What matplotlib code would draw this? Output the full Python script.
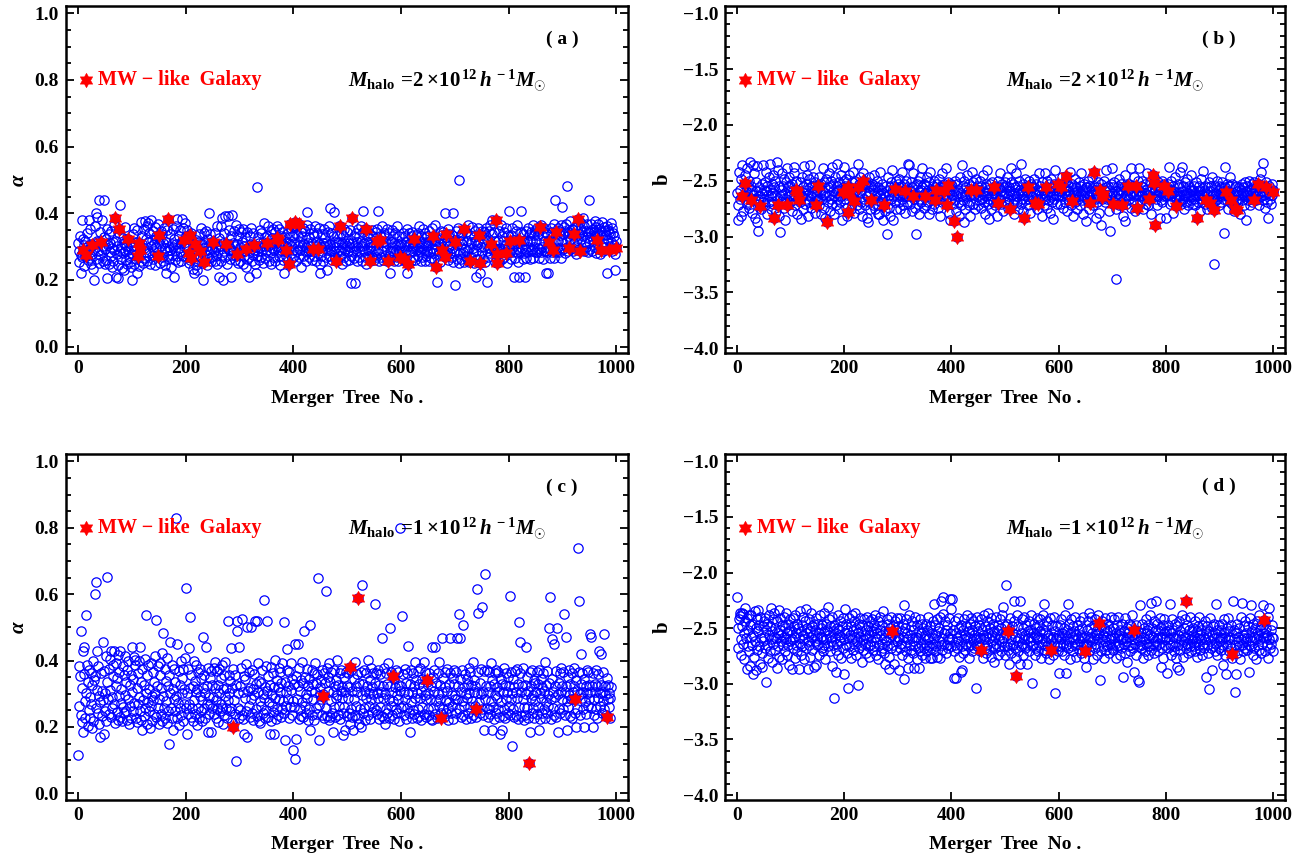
import numpy as np
import matplotlib
matplotlib.use("Agg")
import matplotlib.pyplot as plt
from matplotlib.path import Path
from matplotlib.ticker import MultipleLocator, NullLocator, FuncFormatter

plt.rcParams['font.family'] = ['Liberation Serif', 'DejaVu Serif']
plt.rcParams['font.weight'] = 'bold'
plt.rcParams['mathtext.fontset'] = 'custom'
plt.rcParams['mathtext.rm'] = 'Liberation Serif:bold'
plt.rcParams['mathtext.it'] = 'Liberation Serif:bold:italic'
plt.rcParams['mathtext.bf'] = 'Liberation Serif:bold'

# ---------------- data (tree No. = position 1..1000) ----------------
# panel (a): alpha x1000, M_halo = 2e12
alpha_2e12_x1000 = [
312,287,254,331,276,221,380,268,297,322, 305,243,271,318,195,283,342,259,301,380, 292,266,352,309,248,335,279,304,232,200, 361,296,400,262,318,390,287,314,251,440, 343,276,309,291,380,258,302,440,329,247,
293,322,261,353,205,304,249,338,285,312, 272,347,238,296,315,257,366,289,228,210, 318,279,301,205,246,341,309,288,425,263, 297,236,327,282,230,311,286,358,259,302, 324,247,291,348,269,313,255,299,238,200,
279,338,301,248,357,286,314,262,349,220, 298,273,369,243,321,292,374,258,308,331, 251,352,296,378,267,324,285,361,256,313, 372,281,340,249,302,381,271,319,346,262, 309,287,358,246,333,298,276,269,367,311,
291,324,252,347,303,268,339,312,258,356, 297,246,220,314,286,351,272,321,299,263, 338,291,238,309,274,352,298,210,323,261, 289,362,307,271,383,253,331,296,349,288, 312,257,384,318,273,357,301,248,371,332,
301,268,349,286,322,251,313,361,259,297, 341,287,232,309,221,276,303,352,246,319, 291,229,314,262,338,299,271,357,283,308, 252,200,297,342,268,311,257,348,289,246, 323,302,266,400,287,338,258,314,296,273,
349,286,312,258,341,299,272,362,248,309, 291,210,326,302,257,363,274,385,200,311, 342,288,392,268,324,301,249,393,308,289, 351,262,297,333,210,274,395,312,286,346, 259,302,364,271,400,309,251,331,287,352,
298,257,343,286,314,249,352,272,301,329, 287,238,311,262,344,297,268,210,331,289, 309,357,256,302,274,342,291,313,247,220, 298,271,480,328,286,312,259,351,299,268, 341,288,314,251,372,301,266,329,287,312,
273,331,302,362,257,309,288,346,249,297, 327,268,354,289,314,258,343,301,395,362, 288,311,271,352,298,246,331,289,343,312, 259,302,220,329,287,361,272,314,299,258, 342,286,311,249,356,303,267,332,362,291,
311,272,341,297,258,363,288,332,301,352, 269,314,291,343,238,302,331,273,357,309, 287,346,299,257,364,405,312,286,329,268, 301,353,287,312,259,342,298,271,331,362, 289,314,256,341,302,268,357,309,247,220,
298,271,339,286,312,257,352,301,328,268, 311,230,289,343,302,362,273,415,309,288, 342,259,301,331,405,287,313,268,354,299, 257,332,288,314,363,271,302,341,286,312, 248,331,299,268,352,289,311,257,343,302,
321,287,312,259,349,298,271,190,309,311, 288,332,266,301,190,341,287,313,258,352, 299,268,331,286,314,363,257,302,343,407, 287,312,269,352,301,248,331,289,314,272, 342,299,257,313,288,351,268,332,301,259,
312,287,343,268,301,352,407,289,314,257, 331,298,268,362,287,314,259,342,301,273, 332,289,311,353,258,302,271,341,288,220, 313,266,351,299,287,331,258,312,342,289, 301,268,363,309,257,332,286,301,343,272,
311,288,342,269,410,302,331,257,313,289, 352,220,301,273,341,312,288,332,257,299, 343,286,314,268,357,301,259,331,289,312, 271,342,298,363,287,313,256,332,301,268, 352,289,311,258,341,302,271,331,288,313,
304,257,346,283,317,265,355,296,333,281, 319,262,308,366,291,339,194,315,274,327, 286,309,253,348,297,336,264,284,345,311, 305,400,276,329,285,318,354,259,302,337, 282,316,268,334,296,400,255,321,287,185,
316,283,347,264,305,356,252,500,318,281, 334,262,307,341,284,319,255,353,293,272, 345,286,316,261,365,297,253,336,282,314, 269,358,296,284,329,251,318,347,286,210, 305,263,356,315,284,253,220,336,298,347,
283,317,264,345,298,335,255,356,286,195, 318,268,347,296,281,364,309,262,337,380, 298,345,284,318,253,357,294,267,334,282, 316,254,348,297,366,286,333,263,317,294, 268,344,305,283,357,315,252,336,298,407,
317,284,346,262,335,296,355,283,319,210, 306,267,347,314,285,366,294,253,336,210, 318,283,345,407,297,264,337,282,316,210, 294,348,266,318,284,357,298,334,263,317, 345,286,316,293,366,267,335,298,283,346,
318,284,356,297,334,266,347,315,293,365, 283,336,299,263,357,316,286,345,220,297, 337,283,318,220,346,296,267,355,317,284, 345,296,336,266,367,315,440,284,336,297, 356,316,283,347,296,334,267,366,318,420,
338,293,359,281,348,314,369,482,299,331, 286,200,343,321,378,294,352,337,287,349, 312,460,298,358,333,279,364,319,341,292, 337,374,286,353,322,344,291,386,332,288, 361,311,347,299,368,329,285,343,440,315,
347,292,333,368,287,353,321,344,299,378, 331,281,358,313,342,293,369,337,279,352, 316,348,301,374,336,286,359,311,346,298, 334,363,220,319,351,289,343,302,338,372, 314,357,287,341,304,332,278,230,317,299,
]
# panel (b): -b x100, M_halo = 2e12
minus_b_2e12_x100 = [
261,285,272,242,266,258,282,248,267,236, 264,277,253,263,285,245,259,271,239,256, 269,250,274,261,233,264,255,279,258,236, 263,243,267,283,251,259,287,237,266,295, 256,271,247,264,275,253,261,236,269,258,
266,251,272,242,259,280,255,263,247,269, 258,235,264,275,253,261,245,271,283,256, 263,250,277,233,267,240,259,282,255,264, 296,258,269,243,263,255,274,248,261,285, 251,266,239,259,272,256,264,247,269,255,
263,253,277,258,267,243,238,264,272,250, 261,280,255,266,242,259,269,251,263,284, 247,264,256,275,237,261,271,253,266,245, 258,282,263,248,269,256,236,264,274,255, 261,247,271,259,279,251,264,240,267,258,
256,267,247,272,261,253,280,258,266,239, 263,274,251,261,283,248,264,287,256,269, 243,263,277,255,266,250,238,271,259,253, 264,280,247,261,272,255,235,266,258,275, 251,263,269,245,264,285,256,261,250,238,
266,255,274,248,263,282,258,269,245,261, 256,275,264,251,271,242,263,255,279,259, 250,267,258,272,235,264,253,275,261,247, 269,258,282,255,263,243,266,272,253,261, 251,283,264,287,256,269,247,261,275,255,
263,253,272,258,266,245,275,255,264,271, 250,261,280,256,280,263,242,269,258,266, 253,285,261,272,248,264,277,255,298,259, 267,247,263,274,256,282,251,266,259,240, 264,285,255,269,261,250,275,258,264,253,
258,269,248,263,275,255,266,242,261,272, 253,264,258,279,250,263,269,256,235,264, 236,259,271,251,264,277,256,261,243,266, 255,274,263,298,253,264,250,271,259,280, 247,266,258,269,256,239,263,274,253,261,
264,255,272,247,261,269,258,280,251,263, 242,266,259,275,255,264,250,271,261,256, 267,294,253,263,274,248,266,258,282,255, 261,269,243,264,256,275,253,263,239,267, 258,264,251,272,259,279,285,255,266,253,
263,255,271,286,259,250,267,263,277,300, 253,264,258,282,269,247,261,272,236,264, 255,267,287,250,263,275,256,264,245,269, 259,253,272,263,282,255,264,242,261,271, 251,263,258,275,248,267,261,255,272,259,
258,267,250,263,274,255,266,259,245,269, 263,256,280,253,264,240,261,271,258,266, 284,253,263,275,251,264,258,269,247,261, 272,255,264,259,282,250,263,267,256,243, 266,259,271,253,263,277,256,264,251,269,
261,255,269,247,264,274,256,266,275,259, 251,239,263,271,253,261,280,256,266,243, 264,269,255,261,275,250,263,258,271,235, 259,266,253,277,283,263,248,267,258,264, 255,272,261,250,266,259,279,253,263,256,
264,256,267,248,261,271,253,263,275,258, 266,245,259,243,269,255,263,282,251,264, 258,272,261,243,266,255,263,274,250,261, 267,253,279,259,264,248,269,256,263,284, 253,266,258,240,263,271,256,264,251,259,
263,253,271,259,266,247,264,274,256,261, 251,269,258,246,264,277,255,263,259,267, 242,263,272,253,264,258,282,255,261,269, 248,263,256,275,259,266,251,264,272,255, 261,243,267,263,258,280,253,264,259,256,
286,264,256,269,250,263,275,255,264,259, 267,247,261,272,255,242,266,258,263,283, 256,269,251,264,279,258,261,253,290,266, 255,263,274,250,264,259,269,256,240,263, 266,255,277,259,295,263,253,267,239,261,
263,256,269,251,264,275,338,259,266,255, 261,272,248,263,258,269,253,264,282,259, 256,266,245,286,263,271,255,264,290,258, 266,253,263,274,239,261,255,269,259,247, 264,277,256,263,253,267,259,250,239,264,
259,269,255,264,250,263,275,256,266,261, 253,271,258,264,243,263,272,255,266,259, 251,264,280,256,261,269,247,263,290,258, 266,255,263,272,251,264,259,283,255,267, 261,250,269,258,264,275,253,263,256,283,
264,256,267,253,263,238,271,258,264,250, 261,269,255,279,259,264,247,266,258,263, 272,253,264,256,267,242,263,271,259,238, 266,255,263,275,251,264,258,269,261,248, 264,272,255,263,258,267,245,264,259,271,
258,266,255,263,272,251,264,283,259,269, 255,263,277,258,266,248,263,269,241,259, 264,255,271,261,253,266,275,256,263,251, 267,259,264,255,274,247,263,269,258,325, 264,255,267,261,250,266,259,272,255,263,
261,269,256,264,251,266,259,297,263,238, 256,267,263,253,275,259,264,255,269,247, 263,258,271,253,266,261,277,256,264,255, 267,259,250,269,263,256,266,280,258,263, 253,267,261,256,272,263,251,264,285,259,
263,255,267,259,250,264,272,258,263,253, 269,261,256,275,251,264,259,267,255,263, 258,266,253,272,261,248,242,264,259,234, 267,256,263,274,255,264,251,269,261,258, 283,263,255,266,259,271,253,263,258,264,
]
# MW-like galaxies (red stars), M_halo = 2e12
mw_trees_2e12 = [9,15,26,43,69,77,94,111,113,115,148,151,168,198,207,208,210,218,226,235,
                 251,275,295,313,328,351,369,372,386,392,394,404,410,437,446,479,487,509,535,543,
                 555,562,576,599,605,614,625,659,666,677,681,683,701,718,729,745,746,768,776,778,
                 779,796,803,819,858,875,883,889,912,922,929,933,964,971,986,1000]
mw_alpha_2e12_x1000 = [289,274,304,314,387,352,322,272,310,290,272,334,384,321,280,334,265,309,287,254,
                       314,309,279,294,304,311,325,320,289,249,367,374,367,294,293,257,361,387,354,257,
                       317,320,257,269,262,248,322,331,239,289,270,339,314,352,257,334,251,307,381,277,
                       251,280,317,319,359,314,289,344,297,339,384,287,319,290,290,297]
mw_minus_b_2e12_x100 = [264,252,267,273,283,272,272,258,260,267,272,255,287,260,278,256,262,268,256,250,
                        267,272,257,259,264,264,267,258,259,272,254,286,300,258,258,256,270,275,283,256,
                        270,271,256,253,256,246,268,270,242,258,265,262,271,272,255,255,274,266,245,252,
                        290,255,259,273,283,267,270,276,260,267,275,276,267,253,256,260]

# panel (c): alpha x1000, M_halo = 1e12
alpha_1e12_x1000 = [
117,384,262,352,236,488,214,318,186,430, 361,440,279,228,538,301,387,203,334,251, 372,289,226,364,268,197,326,398,219,341, 352,600,636,258,430,311,241,384,209,292, 274,170,362,232,309,455,281,178,368,247,
302,415,218,336,652,283,374,238,312,405, 229,430,291,257,388,352,268,428,211,324, 392,246,347,418,222,294,366,231,430,272, 314,218,383,259,357,241,297,414,249,336, 221,372,283,398,208,327,262,356,228,305,
440,248,345,412,271,386,402,228,317,214, 364,269,398,291,440,247,336,221,190,375, 281,326,232,404,258,538,301,209,358,276, 386,247,315,198,394,262,294,219,367,281, 336,238,415,302,231,523,324,257,384,210,
283,356,394,238,316,424,219,292,483,258, 374,227,338,279,407,212,324,249,358,150, 455,301,257,386,228,314,190,284,376,247, 336,830,294,226,450,271,368,207,327,258, 398,237,303,347,218,376,268,314,407,257,
620,180,302,238,374,268,437,316,532,229, 358,257,324,217,398,281,337,238,304,386, 207,314,258,367,226,293,376,247,348,281, 218,316,470,258,357,302,227,440,324,268, 378,185,291,238,346,269,368,185,257,327,
291,378,238,316,397,226,281,368,258,327, 214,376,302,247,348,269,386,256,208,314, 357,237,294,396,258,316,227,518,281,357, 302,247,338,437,258,316,216,376,200,281, 357,238,327,97,490,520,258,302,226,440,
324,251,379,236,525,306,223,354,180,287, 343,249,391,500,170,309,262,365,229,318, 500,284,372,241,313,221,297,361,518,255, 329,518,233,305,394,219,338,277,211,331, 263,371,298,243,582,286,320,228,383,252,
308,518,231,352,276,180,327,219,381,262, 297,363,244,319,180,288,401,224,342,253, 321,236,379,284,306,366,229,331,255,394, 279,515,241,336,160,304,262,372,435,285, 322,228,367,259,311,392,236,345,130,279,
330,261,450,105,165,353,284,450,322,224, 378,255,307,342,233,396,276,331,229,490, 351,262,298,241,374,287,324,221,343,255, 507,190,309,372,236,328,283,364,222,306, 393,257,333,240,361,650,160,265,319,297,
284,342,235,371,299,270,363,228,331,610, 256,379,232,308,349,221,392,230,334,277, 366,243,184,304,261,373,322,229,341,287, 297,402,236,325,262,364,224,309,371,288, 319,241,175,351,259,190,306,367,233,322,
287,364,241,321,382,210,254,373,309,229, 190,344,283,396,236,324,262,361,305,227, 587,210,333,253,200,366,297,627,241,329, 372,256,308,221,363,286,324,401,237,303, 263,342,225,378,284,319,245,362,298,257,
331,570,252,364,239,301,372,286,325,224, 361,259,306,467,233,322,287,377,226,298, 210,363,254,329,242,393,283,228,497,324, 262,367,304,236,401,278,344,223,319,255, 373,297,241,365,284,326,219,800,308,257,
322,535,263,361,236,304,374,284,224,331, 257,363,445,298,241,184,329,276,373,228, 306,364,252,324,239,395,286,342,226,301, 369,255,328,233,378,287,307,222,344,261, 324,397,238,296,367,283,229,334,377,254,
303,236,362,285,324,224,440,220,351,256, 307,372,238,440,279,331,228,364,298,262, 395,284,326,241,227,467,304,253,348,229, 321,366,278,243,375,309,257,220,329,276, 467,363,241,297,262,346,223,328,372,285,
297,242,367,467,283,324,540,255,343,467, 229,306,373,279,236,507,321,263,361,298, 224,345,286,328,241,379,302,259,366,227, 326,278,396,237,304,341,262,322,231,254, 303,614,542,365,276,331,242,299,374,255,
562,304,236,190,369,284,662,322,257,371, 229,305,366,253,324,238,393,277,190,342, 261,328,224,364,297,243,371,286,321,255, 367,231,308,180,276,345,190,329,233,304, 379,254,325,228,364,283,306,241,349,262,
324,595,237,366,285,301,143,344,255,229, 321,369,236,304,287,375,224,328,515,261, 364,455,306,234,322,283,378,259,220,326, 236,298,440,257,349,228,307,90,366,184, 286,322,243,373,296,257,342,228,331,279,
305,366,239,329,261,372,190,302,224,343, 287,321,242,363,254,308,397,227,325,276, 241,369,263,296,497,331,590,223,284,465, 344,257,306,450,236,323,289,368,229,497, 298,184,331,255,362,243,304,377,283,324,
254,366,540,306,237,470,323,279,190,349, 261,296,372,234,328,284,363,227,305,285, 322,378,286,241,341,200,307,255,739,366, 580,298,236,329,420,287,362,253,306,200, 344,276,322,238,373,301,262,367,284,325,
304,480,470,257,322,200,364,283,236,329, 306,372,254,324,228,286,361,430,301,262, 420,327,241,304,366,279,480,255,323,297, 236,230,348,284,326,259,303,227,286,321,
]
# panel (d): -b x100, M_halo = 1e12
minus_b_1e12_x100 = [
222,250,268,242,239,236,260,274,248,236, 264,237,254,278,244,232,259,287,241,266, 252,238,271,247,284,258,238,265,246,291, 256,276,235,262,250,288,242,270,253,234, 266,247,282,240,259,272,285,248,262,244,
258,268,241,252,298,246,265,277,238,256, 248,271,260,232,280,253,242,264,258,236, 270,250,259,286,244,254,266,234,276,252, 241,262,256,278,247,265,240,258,271,250, 260,236,274,254,246,265,283,253,242,262,
252,287,260,241,268,248,258,277,238,265, 254,246,271,250,287,259,235,264,253,274, 247,266,256,240,278,260,244,233,268,254, 250,262,287,242,265,253,276,236,258,248, 270,256,285,246,262,252,283,241,259,265,
246,264,254,274,238,258,250,268,247,271, 259,236,265,253,278,246,260,252,231,266, 256,242,271,248,262,258,284,240,265,253, 247,313,259,270,289,250,264,238,274,256, 252,262,244,277,258,248,268,241,260,291,
254,233,265,246,272,252,259,304,241,266, 256,248,277,238,260,253,270,244,264,258, 236,274,250,262,254,301,246,268,258,241, 265,253,280,247,260,270,242,256,264,252, 272,240,259,266,248,276,256,244,265,253,
262,242,270,253,247,266,258,238,274,250, 260,254,278,244,265,252,240,271,256,264, 247,268,235,259,272,282,253,262,242,266, 254,246,276,287,258,250,268,240,262,256, 265,248,282,244,259,270,252,262,241,258,
248,288,259,268,241,264,253,274,246,258, 296,229,266,250,271,242,260,254,277,286, 238,265,256,248,270,259,244,272,252,286, 262,240,266,258,278,247,259,268,286,253, 242,271,254,264,246,274,250,260,268,277,
256,265,246,271,252,260,240,266,258,277, 248,268,254,277,244,264,228,259,271,247, 256,266,242,276,253,262,250,277,240,265, 226,259,270,222,237,254,264,244,272,252, 265,247,258,268,241,260,224,254,266,233,
224,260,252,271,295,244,265,295,254,259, 268,241,262,250,276,256,289,247,266,288, 252,272,242,260,256,270,248,264,238,258, 266,253,277,246,259,265,241,271,252,262, 244,268,256,248,304,260,266,240,258,253,
265,247,259,271,242,264,252,277,256,238, 260,268,248,258,272,244,265,254,236,270, 259,250,276,241,262,256,266,246,280,253, 258,268,240,264,252,274,247,260,266,242, 256,271,250,262,238,231,259,266,248,274,
256,211,266,246,259,270,282,253,264,241, 260,272,248,265,254,226,244,268,258,277, 252,238,262,271,248,259,282,226,266,254, 242,264,274,250,260,240,268,256,247,265, 282,253,259,244,271,252,262,258,238,266,
299,254,265,246,274,256,250,268,241,260, 258,271,247,265,253,242,277,259,264,252, 238,228,270,254,262,248,272,244,266,256, 259,278,241,265,252,260,270,247,258,274, 240,264,253,308,259,266,248,271,256,290,
258,266,247,260,242,271,254,264,250,274, 256,238,265,290,259,252,228,268,246,262, 254,278,242,266,258,248,271,260,253,240, 265,256,276,247,264,259,252,270,244,262, 256,272,250,259,240,266,258,277,253,264,
285,252,265,258,244,236,271,250,260,266, 240,262,254,278,247,259,268,242,264,256, 252,274,259,238,265,254,297,248,271,260, 244,266,256,277,250,262,241,270,258,253, 266,246,260,272,252,264,240,259,268,256,
250,270,259,242,264,254,277,247,266,258, 240,265,256,274,252,260,268,246,294,258, 264,253,272,241,262,259,250,280,254,266, 246,258,271,248,265,256,238,268,260,252, 289,264,254,274,247,259,297,253,266,298,
262,229,254,268,246,265,258,277,250,260, 271,242,264,254,252,274,247,266,259,238, 256,227,270,250,264,258,244,272,253,262, 266,226,259,246,271,252,264,241,258,285, 250,268,259,247,277,254,242,265,260,253,
258,290,268,247,260,252,228,265,254,274, 242,264,258,252,271,246,266,259,277,248, 285,256,265,288,244,270,253,260,238,265, 256,276,250,262,258,242,268,254,264,247, 272,259,252,266,240,260,271,253,262,256,
250,266,258,271,244,262,253,276,259,248, 265,240,270,256,260,252,274,247,264,258, 268,244,260,294,254,265,248,272,258,305, 253,262,241,268,256,288,248,266,259,246, 271,254,228,264,252,274,258,247,268,259,
262,252,270,246,259,283,265,254,242,274, 258,291,250,266,260,241,271,253,264,258, 247,268,256,277,226,260,252,265,307,291, 254,272,246,262,258,266,250,278,240,260, 227,265,256,271,248,259,268,244,262,254,
259,270,248,265,289,258,241,229,266,253, 262,274,246,258,268,250,260,278,254,244, 265,256,270,238,260,252,272,247,264,258, 229,266,254,244,271,259,250,265,256,277, 240,232,260,268,252,264,258,247,271,259,
]
# MW-like galaxies (red stars), M_halo = 1e12
mw_trees_1e12 = [289, 456, 505, 521, 585, 649, 675, 740, 838, 923, 982]
mw_alpha_1e12_x1000 = [200, 292, 382, 587, 354, 340, 227, 254, 90, 285, 229]
mw_minus_b_1e12_x100 = [253, 270, 253, 293, 270, 271, 245, 252, 226, 273, 243]

ALPHA_TICKS = [0.0, 0.2, 0.4, 0.6, 0.8, 1.0]
B_TICKS = [-4.0, -3.5, -3.0, -2.5, -2.0, -1.5, -1.0]
X_TICKS = [0, 200, 400, 600, 800, 1000]


def hexagram():
    k = np.arange(12)
    ang = np.deg2rad(k * 30 + 90)
    r = np.where(k % 2 == 0, 1.0, 1 / np.sqrt(3))
    v = np.column_stack([r * np.cos(ang), r * np.sin(ang)])
    v = np.vstack([v, v[0]])
    codes = [Path.MOVETO] + [Path.LINETO] * 11 + [Path.CLOSEPOLY]
    return Path(v, codes)


STAR = hexagram()
BLUE = '#0000ff'
RED = '#ff0000'

fig = plt.figure(figsize=(13.05, 8.56), dpi=100)


def panel(rect, vals, star_t, star_v, kind, tag, mass):
    ax = fig.add_axes(rect)
    vals = np.array(vals, dtype=float)
    x = np.arange(1, len(vals) + 1)
    for t, v in zip(star_t, star_v):
        if 1 <= t <= len(vals):
            vals[t - 1] = v
    ax.plot(x, vals, ls='none', marker='o', ms=6.7, mfc='none', mec=BLUE, mew=0.9, zorder=2)
    ax.plot(star_t, star_v, ls='none', marker=STAR, ms=10.5, mfc=RED, mec=RED, mew=0.3, zorder=3)

    if kind == 'alpha':
        ax.set_ylim(-0.02, 1.022)
        ax.set_yticks(ALPHA_TICKS)
        ax.yaxis.set_minor_locator(MultipleLocator(0.05))
        ax.yaxis.set_major_formatter(FuncFormatter(lambda v, p: f"{v:.1f}"))
        ly, my, ty = 0.8, 0.778, 0.922
        ax.set_ylabel(r'$\alpha$', fontsize=15, rotation=90)
        ax.yaxis.set_label_coords(-0.066, 0.5)
    else:
        ax.set_ylim(-4.045, -0.935)
        ax.set_yticks(B_TICKS)
        ax.yaxis.set_minor_locator(MultipleLocator(0.1))
        ax.yaxis.set_major_formatter(FuncFormatter(lambda v, p: "\u2212" + f"{abs(v):.1f}"))
        ly, my, ty = -1.6, -1.665, -1.23
        ax.set_ylabel('b', fontsize=15, fontweight='bold')
        ax.yaxis.set_label_coords(-0.093, 0.5)

    ax.set_xlim(-22, 1022)
    ax.set_xticks(X_TICKS)
    ax.xaxis.set_minor_locator(NullLocator())
    ax.set_xlabel('Merger  Tree  No .', fontsize=14, fontweight='bold')
    ax.xaxis.set_label_coords(0.5, -0.105)

    for s in ax.spines.values():
        s.set_linewidth(1.8)
    ax.tick_params(which='both', direction='in', top=True, right=True, width=1.3)
    ax.tick_params(which='major', length=6, labelsize=14, pad=5)
    ax.tick_params(which='minor', length=3.5)
    for lab in ax.get_xticklabels() + ax.get_yticklabels():
        lab.set_fontweight('bold')

    # legend-like annotation
    ax.plot([15], [ly], ls='none', marker=STAR, ms=10.5, mfc=RED, mec=RED, mew=0.3)
    ax.text(38, ly, 'MW \u2212 like  Galaxy', color=RED, fontsize=14.5, fontweight='bold',
            ha='left', va='center')
    ax.text(502, my, mass, fontsize=15, ha='left', va='baseline')
    ax.text(899, ty, tag, fontsize=14, fontweight='bold', ha='center', va='center')
    return ax


M2 = r'$M_{\rm halo}\,=\!2\times\!10^{\,12}\,h^{\,-1}M_{\odot}$'
M1 = r'$M_{\rm halo}\,=\!1\times\!10^{\,12}\,h^{\,-1}M_{\odot}$'

RA = [0.0506, 0.5873, 0.4307, 0.4057]
RB = [0.5556, 0.5873, 0.4291, 0.4057]
RC = [0.0506, 0.0654, 0.4307, 0.4042]
RD = [0.5556, 0.0654, 0.4291, 0.4042]

panel(RA, np.array(alpha_2e12_x1000) / 1000, mw_trees_2e12, np.array(mw_alpha_2e12_x1000) / 1000,
      'alpha', '( a )', M2)
panel(RB, -np.array(minus_b_2e12_x100) / 100, mw_trees_2e12, -np.array(mw_minus_b_2e12_x100) / 100,
      'b', '( b )', M2)
panel(RC, np.array(alpha_1e12_x1000) / 1000, mw_trees_1e12, np.array(mw_alpha_1e12_x1000) / 1000,
      'alpha', '( c )', M1)
panel(RD, -np.array(minus_b_1e12_x100) / 100, mw_trees_1e12, -np.array(mw_minus_b_1e12_x100) / 100,
      'b', '( d )', M1)

fig.savefig('out.png', dpi=100)
